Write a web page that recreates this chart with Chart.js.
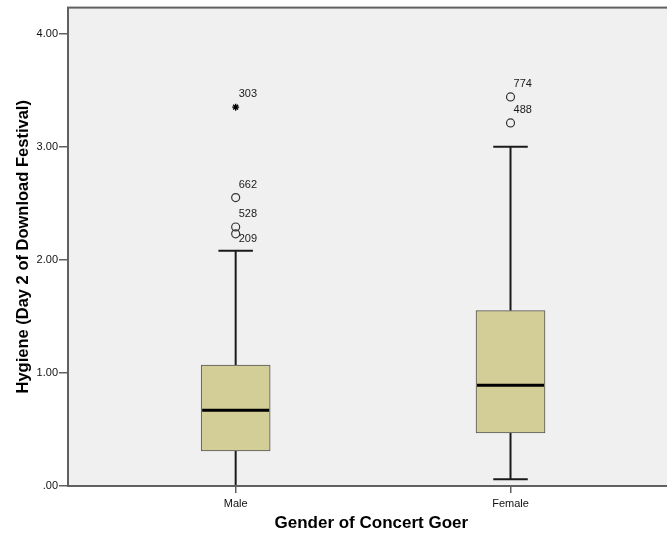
<!DOCTYPE html>
<html>
<head>
<meta charset="utf-8">
<script src="https://cdn.jsdelivr.net/npm/chart.js@4.4.1/dist/chart.umd.min.js"></script>
<style>
  html, body { margin: 0; padding: 0; background: #fff; overflow: hidden; }
</style>
</head>
<body>
<canvas id="chart" width="680" height="538"></canvas>
<script>
// box summary per group (Hygiene, day 2)
const categories = ['Male', 'Female'];
const whiskerLow = [0.00, 0.06];
const q1 = [0.31, 0.47];
const median = [0.67, 0.89];
const q3 = [1.07, 1.55];
const whiskerHigh = [2.08, 3.00];

// mild outliers (circles) and extremes (stars) with case numbers
const outlierGroup = [0, 0, 0, 1, 1];
const outlierValue = [2.23, 2.29, 2.55, 3.21, 3.44];
const outlierCase = ['209', '528', '662', '488', '774'];
const extremeGroup = [0];
const extremeValue = [3.35];
const extremeCase = ['303'];

const yTicks = [0, 1, 2, 3, 4];

const FONT = '"Liberation Sans", Arial, sans-serif';
const FRAME = '#606060';

const boxPlugin = {
  id: 'boxParts',
  beforeDraw(chart) {
    const { ctx, chartArea: a } = chart;
    ctx.save();
    ctx.fillStyle = '#f0f0f0';
    ctx.fillRect(a.left, a.top, a.right - a.left, a.bottom - a.top);
    ctx.restore();
  },
  beforeDatasetsDraw(chart) {
    const { ctx, scales } = chart;
    const boxW = chart.getDatasetMeta(0).data[0].width;
    ctx.save();
    ctx.strokeStyle = '#1a1a1a';
    ctx.lineWidth = 2;
    categories.forEach((_, i) => {
      const x = scales.x.getPixelForValue(i + 1);
      const cap = boxW / 4;
      [[whiskerLow[i], q1[i]], [q3[i], whiskerHigh[i]]].forEach(([from, to]) => {
        ctx.beginPath();
        ctx.moveTo(x, scales.y.getPixelForValue(from));
        ctx.lineTo(x, scales.y.getPixelForValue(to));
        ctx.stroke();
      });
      [whiskerLow[i], whiskerHigh[i]].forEach((v) => {
        const y = scales.y.getPixelForValue(v);
        ctx.beginPath();
        ctx.moveTo(x - cap, y);
        ctx.lineTo(x + cap, y);
        ctx.stroke();
      });
    });
    ctx.restore();
  },
  afterDatasetsDraw(chart) {
    const { ctx, scales } = chart;
    const boxW = chart.getDatasetMeta(0).data[0].width;
    ctx.save();
    ctx.strokeStyle = '#000';
    ctx.lineWidth = 3;
    categories.forEach((_, i) => {
      const x = scales.x.getPixelForValue(i + 1);
      const y = scales.y.getPixelForValue(median[i]);
      ctx.beginPath();
      ctx.moveTo(x - boxW / 2 + 1, y);
      ctx.lineTo(x + boxW / 2 - 1, y);
      ctx.stroke();
    });

    // case labels: up-right of the point, pushed below when they would collide
    ctx.fillStyle = '#1a1a1a';
    ctx.font = '11px ' + FONT;
    ctx.textAlign = 'left';
    ctx.textBaseline = 'middle';
    const marks = [];
    [[1, outlierCase], [2, extremeCase]].forEach(([dsIndex, cases]) => {
      chart.getDatasetMeta(dsIndex).data.forEach((pt, j) => {
        marks.push({ x: pt.x, y: pt.y, text: cases[j] });
      });
    });
    marks.sort((m, n) => m.y - n.y);
    const placed = [];
    marks.forEach((m) => {
      let ly = m.y - 13;
      if (placed.some((p) => Math.abs(p.x - m.x) < 20 && Math.abs(p.y - ly) < 11)) {
        ly = m.y + 5;
      }
      placed.push({ x: m.x, y: ly });
      ctx.fillText(m.text, m.x + 3, ly);
    });
    ctx.restore();
  },
  afterDraw(chart) {
    const { ctx, chartArea: a } = chart;
    ctx.save();
    ctx.strokeStyle = FRAME;
    ctx.lineWidth = 2;
    ctx.strokeRect(a.left, a.top, a.right - a.left, a.bottom - a.top);
    ctx.restore();
  }
};

new Chart(document.getElementById('chart'), {
  data: {
    datasets: [
      {
        type: 'bar',
        data: categories.map((_, i) => ({ x: i + 1, y: [q1[i], q3[i]] })),
        backgroundColor: '#d3ce97',
        borderColor: '#555',
        borderWidth: 1,
        borderSkipped: false,
        barThickness: 69
      },
      {
        type: 'scatter',
        data: outlierValue.map((v, i) => ({ x: outlierGroup[i] + 1, y: v })),
        pointStyle: 'circle',
        pointRadius: 4,
        borderColor: '#333',
        backgroundColor: 'rgba(0,0,0,0)',
        borderWidth: 1.2
      },
      {
        type: 'scatter',
        data: extremeValue.map((v, i) => ({ x: extremeGroup[i] + 1, y: v })),
        pointStyle: 'star',
        pointRadius: 3.5,
        borderColor: '#000',
        borderWidth: 1.4
      }
    ]
  },
  options: {
    responsive: false,
    animation: false,
    layout: { padding: { top: 6, right: 1, left: 0, bottom: 0 } },
    plugins: { legend: { display: false }, tooltip: { enabled: false } },
    scales: {
      x: {
        type: 'linear',
        min: 0.39,
        max: 2.597,
        offset: false,
        afterBuildTicks: (scale) => { scale.ticks = categories.map((_, i) => ({ value: i + 1 })); },
        afterFit: (scale) => { scale.height = 52; },
        ticks: {
          callback: (v) => categories[v - 1] || '',
          color: '#111',
          font: { family: FONT, size: 11 },
          padding: 4,
          maxRotation: 0
        },
        grid: { offset: false, drawOnChartArea: false, drawTicks: true, tickLength: 7, color: FRAME, lineWidth: 1.5 },
        border: { display: false },
        title: {
          display: true,
          text: 'Gender of Concert Goer',
          color: '#000',
          font: { family: FONT, size: 17, weight: 'bold' },
          padding: { top: 6 }
        }
      },
      y: {
        min: 0,
        max: 4.23,
        afterBuildTicks: (scale) => { scale.ticks = yTicks.map((v) => ({ value: v })); },
        afterFit: (scale) => { scale.width = 68; },
        ticks: {
          callback: (v) => v.toFixed(2).replace(/^0/, ''),
          color: '#111',
          font: { family: FONT, size: 11 },
          padding: 1
        },
        grid: { drawOnChartArea: false, drawTicks: true, tickLength: 9, color: FRAME, lineWidth: 1.5 },
        border: { display: false },
        title: {
          display: true,
          text: 'Hygiene (Day 2 of Download Festival)',
          color: '#000',
          font: { family: FONT, size: 16.5, weight: 'bold' },
          padding: { top: 14 }
        }
      }
    }
  },
  plugins: [boxPlugin]
});
</script>
</body>
</html>
